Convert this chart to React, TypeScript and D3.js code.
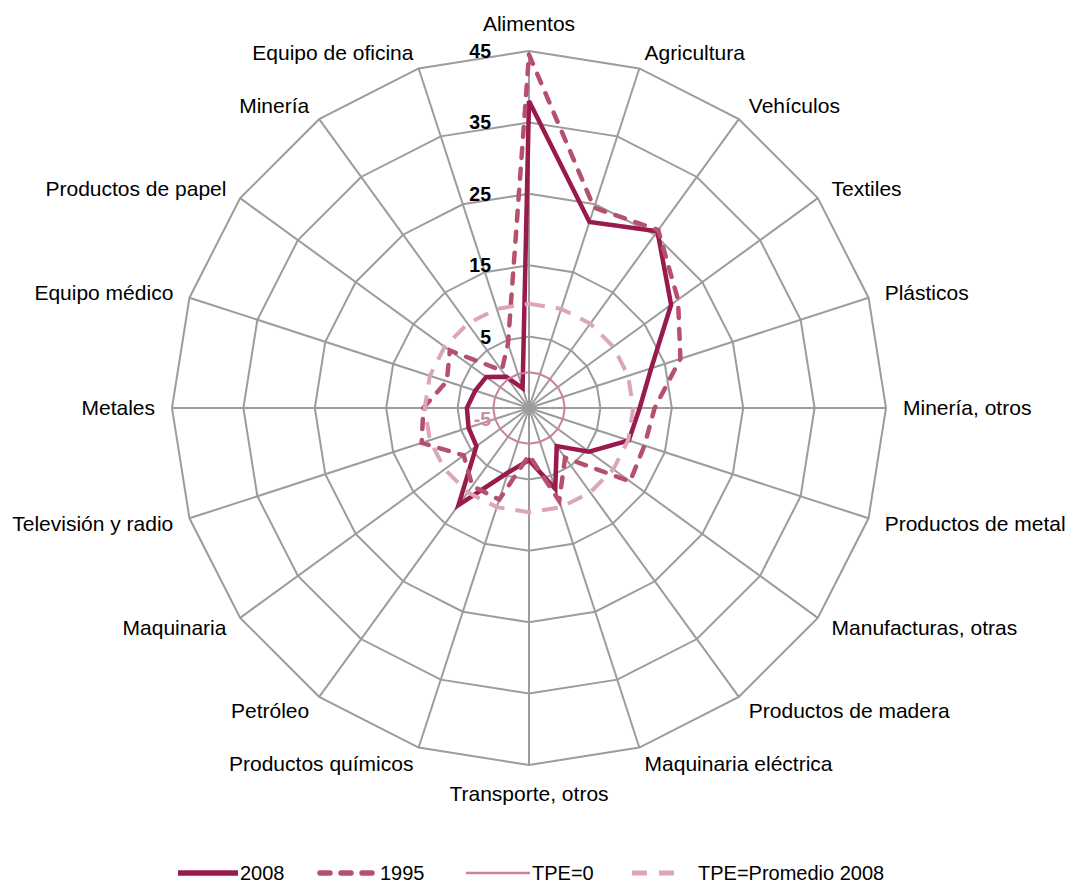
import React from 'react';
import * as d3 from 'd3';

// categories clockwise from the top
const categories = [
  'Alimentos', 'Agricultura', 'Vehículos', 'Textiles', 'Plásticos',
  'Minería, otros', 'Productos de metal', 'Manufacturas, otras', 'Productos de madera',
  'Maquinaria eléctrica', 'Transporte, otros', 'Productos químicos', 'Petróleo',
  'Maquinaria', 'Televisión y radio', 'Metales', 'Equipo médico',
  'Productos de papel', 'Minería', 'Equipo de oficina',
];

const values2008 = [38, 22.4, 25.6, 19.6, 13, 10.5, 9.7, 5.4, 1.6, 6.9, 2.3, 4.5, 11.8, 4.1, 3.9, 3.7, 2.9, 2.4, 0.4, -2.1];
const values1995 = [44.5, 24.5, 25.8, 20.8, 17.3, 12.6, 12.0, 12.5, 3.6, 8.7, 1.6, 8.5, 8.5, 6.3, 10.8, 9.8, 7.1, 8.7, 1.5, 4.5];
const tpeZero = categories.map(() => 0);
const tpeAvg2008 = categories.map(() => 9.6);

const ticks = [-5, 5, 15, 25, 35, 45];

const legendLabels = ['2008', '1995', 'TPE=0', 'TPE=Promedio 2008'];

const W = 1070;
const H = 884;
const cx = 529;
const cy = 408;
const R = 357;
const font = '"Liberation Sans", Arial, sans-serif';

export default function App() {
  const n = categories.length;
  const step = (2 * Math.PI) / n;
  const r = d3.scaleLinear().domain([-5, 45]).range([0, R]);

  const radial = d3
    .lineRadial<number>()
    .angle((d, i) => i * step)
    .radius((d) => r(d))
    .curve(d3.curveLinearClosed);

  const series = [
    { name: '2008', data: values2008, color: '#991a4d', width: 4.5, dash: undefined, cap: 'butt' },
    { name: '1995', data: values1995, color: '#b5506f', width: 4.5, dash: '10,11', cap: 'round' },
    { name: 'TPE=0', data: tpeZero, color: '#cb8199', width: 2, dash: undefined, cap: 'butt' },
    { name: 'TPE=Promedio 2008', data: tpeAvg2008, color: '#dca6b8', width: 4, dash: '16,11', cap: 'butt' },
  ];

  const legendDash = [undefined, '10,11', undefined, '15,12'];

  const dir = (i: number) => [Math.sin(i * step), -Math.cos(i * step)];

  return (
    <svg width={W} height={H} style={{ position: 'absolute', left: 0, top: 0, background: '#fff' }}>
      <g transform={`translate(${cx},${cy})`}>
        {/* grid rings */}
        {ticks.slice(1).map((t) => (
          <path key={t} d={radial(categories.map(() => t)) || ''} fill="none" stroke="#9c9c9c" strokeWidth={2} />
        ))}
        {/* spokes */}
        {categories.map((c, i) => {
          const [dx, dy] = dir(i);
          return <line key={c} x1={0} y1={0} x2={dx * R} y2={dy * R} stroke="#9c9c9c" strokeWidth={2} />;
        })}

        {/* series */}
        {series.map((s) => (
          <path
            key={s.name}
            d={radial(s.data) || ''}
            fill="none"
            stroke={s.color}
            strokeWidth={s.width}
            strokeDasharray={s.dash}
            strokeLinecap={s.cap as any}
            strokeLinejoin="miter"
          />
        ))}

        {/* tick labels */}
        {ticks.map((t) => (
          <text
            key={t}
            x={-38}
            y={t === -5 ? 11 : -r(t)}
            dy="0.36em"
            textAnchor="end"
            fontFamily={font}
            fontWeight="bold"
            fontSize={19.5}
            fill={t === -5 ? '#d08aa3' : '#000'}
          >
            {t}
          </text>
        ))}

        {/* category labels */}
        {categories.map((c, i) => {
          const [dx, dy] = dir(i);
          const d = R + 17;
          const x = dx * d;
          let y = dy * d;
          let anchor = 'middle';
          if (dx > 0.01) anchor = 'start';
          else if (dx < -0.01) anchor = 'end';
          else y += dy < 0 ? -10 : 12;
          return (
            <text key={c} x={x} y={y} dy="0.35em" textAnchor={anchor} fontFamily={font} fontSize={21} fill="#000">
              {c}
            </text>
          );
        })}
      </g>

      {/* legend */}
      <g transform="translate(0,873)">
        {series.map((s, i) => {
          const x0 = [178, 320, 466, 632][i];
          const len = [60, 58, 64, 42][i];
          return (
            <g key={s.name}>
              <line
                x1={x0}
                x2={x0 + len}
                y1={0}
                y2={0}
                stroke={s.color}
                strokeWidth={s.width === 2 ? 2.5 : s.width + 1}
                strokeDasharray={legendDash[i]}
                strokeLinecap={s.cap as any}
              />
              <text
                x={x0 + len + (i === 3 ? 24 : 2)}
                y={0}
                dy="0.35em"
                fontFamily={font}
                fontSize={20}
                fill="#000"
              >
                {legendLabels[i]}
              </text>
            </g>
          );
        })}
      </g>
    </svg>
  );
}
